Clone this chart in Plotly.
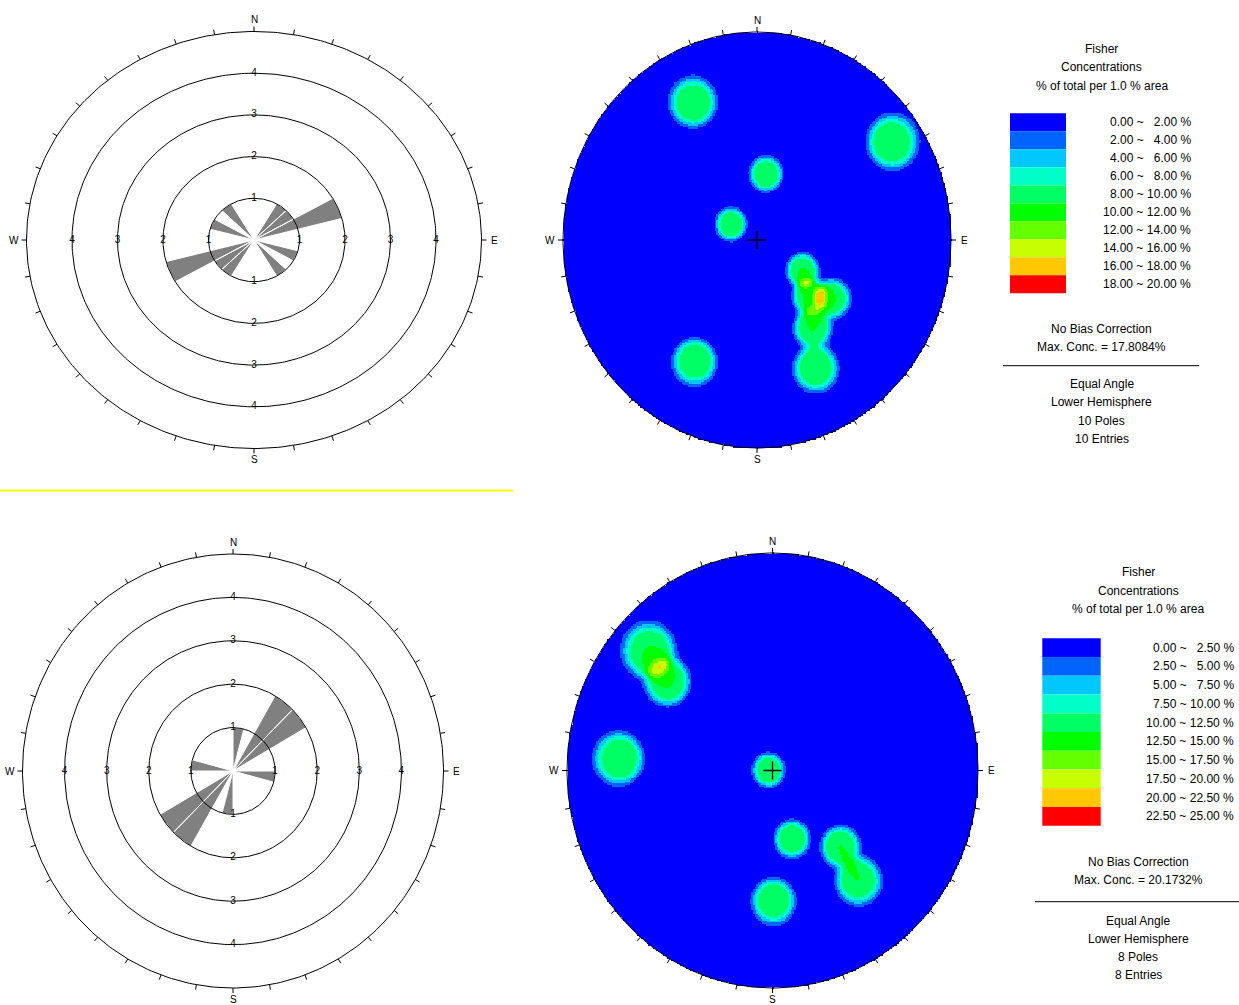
import numpy as np
import plotly.graph_objects as go

W, H = 1239, 1005
FONT = "Liberation Sans"

# ---------------- rose diagram data (15 degree bins, axial 0-180) ----------------
ROSE_BIN = 15
rose_top_counts = [0, 0, 1, 1, 2, 0, 0, 1, 0, 1, 0, 0]
rose_bot_counts = [1, 0, 2, 2, 0, 0, 1, 0, 0, 0, 0, 0]
ring_values = [1, 2, 3, 4]
rose_outer = 5

# ---------------- pole data (trend / plunge, degrees) ----------------
top_trend = [333.5, 55.8, 8.1, 299.5, 208.9, 121.9, 135.1, 126.2, 145.9, 153.9]
top_plunge = [17.4, 10.4, 54.5, 72.3, 23.0, 59.4, 48.4, 39.4, 36.4, 21.6]
bot_trend = [312.5, 308.7, 274.3, 276.4, 163.3, 136.7, 140.5, 179.6]
bot_plunge = [12.0, 23.95, 16.7, 87.7, 53.9, 39.0, 23.96, 28.5]

# ---------------- contour legend ----------------
band_colors = ["#0000FF", "#0064FF", "#00C8FF", "#00FFC8", "#00FF64",
               "#00FF00", "#64FF00", "#C8FF00", "#FFC800", "#FF0000"]
top_levels = [0, 2, 4, 6, 8, 10, 12, 14, 16, 18, 20]
bot_levels = [0, 2.5, 5, 7.5, 10, 12.5, 15, 17.5, 20, 22.5, 25]
top_max_conc = "17.8084%"
bot_max_conc = "20.1732%"
top_poles_text = ["Equal Angle", "Lower Hemisphere", "10 Poles", "10 Entries"]
bot_poles_text = ["Equal Angle", "Lower Hemisphere", "8 Poles", "8 Entries"]

# ---------------- panel geometry (pixel box, centre, pixels per unit) ----------------
panels = {
    "rose_top": dict(box=(0, 0, 512, 480), c=(254, 240), s=(45.5, 41.7)),
    "net_top": dict(box=(530, 0, 992, 480), c=(757, 240), s=(194, 208)),
    "rose_bot": dict(box=(0, 500, 470, 1005), c=(233, 771), s=(42.1, 43.4)),
    "net_bot": dict(box=(540, 500, 1006, 1005), c=(772.5, 770.5), s=(205.5, 217.5)),
}

fig = go.Figure()
layout = dict(width=W, height=H, margin=dict(l=0, r=0, t=0, b=0),
              paper_bgcolor="white", plot_bgcolor="rgba(0,0,0,0)",
              showlegend=False, font=dict(family=FONT, size=11, color="black"))
refs = {}
for i, (name, p) in enumerate(panels.items(), start=1):
    x0, y0, x1, y1 = p["box"]
    cx, cy = p["c"]
    sx, sy = p["s"]
    xa = "xaxis" if i == 1 else f"xaxis{i}"
    ya = "yaxis" if i == 1 else f"yaxis{i}"
    xr = "x" if i == 1 else f"x{i}"
    yr = "y" if i == 1 else f"y{i}"
    layout[xa] = dict(domain=[x0 / W, x1 / W], range=[(x0 - cx) / sx, (x1 - cx) / sx],
                      visible=False, anchor=yr, fixedrange=True)
    layout[ya] = dict(domain=[1 - y1 / H, 1 - y0 / H], range=[(cy - y1) / sy, (cy - y0) / sy],
                      visible=False, anchor=xr, fixedrange=True)
    refs[name] = (xr, yr, sx, sy)

annotations = []
shapes = []


def circle_xy(r, n=361):
    a = np.linspace(0, 2 * np.pi, n)
    return r * np.sin(a), r * np.cos(a)


def add_frame(name, R, tick_px=5):
    xr, yr, sx, sy = refs[name]
    x, y = circle_xy(R)
    fig.add_trace(go.Scatter(x=x, y=y, mode="lines", line=dict(color="black", width=1),
                             xaxis=xr, yaxis=yr, hoverinfo="skip"))
    tx, ty = [], []
    for deg in range(0, 360, 10):
        a = np.radians(deg)
        tx += [R * np.sin(a), R * np.sin(a) + tick_px * np.sin(a) / sx, None]
        ty += [R * np.cos(a), R * np.cos(a) + tick_px * np.cos(a) / sy, None]
    fig.add_trace(go.Scatter(x=tx, y=ty, mode="lines", line=dict(color="black", width=1),
                             xaxis=xr, yaxis=yr, hoverinfo="skip"))
    for lab, px, py, dx, dy in [("N", 0, R, 0, 12), ("S", 0, -R, 0, -11),
                                ("E", R, 0, 13, 0), ("W", -R, 0, -13, 0)]:
        annotations.append(dict(x=px, y=py, xref=xr, yref=yr, text=lab, showarrow=False,
                                xshift=dx, yshift=dy, font=dict(size=10, family=FONT)))


def add_rose(name, counts):
    xr, yr, sx, sy = refs[name]
    px, py = [], []
    for i, c in enumerate(counts):
        if c <= 0:
            continue
        for base in (i * ROSE_BIN, i * ROSE_BIN + 180):
            a = np.radians(np.linspace(base, base + ROSE_BIN, 16))
            px += [0] + list(c * np.sin(a)) + [0, None]
            py += [0] + list(c * np.cos(a)) + [0, None]
    fig.add_trace(go.Scatter(x=px, y=py, mode="lines", fill="toself", fillcolor="#808080",
                             line=dict(color="white", width=1), xaxis=xr, yaxis=yr,
                             hoverinfo="skip"))
    for r in ring_values:
        x, y = circle_xy(r)
        fig.add_trace(go.Scatter(x=x, y=y, mode="lines", line=dict(color="black", width=1),
                                 xaxis=xr, yaxis=yr, hoverinfo="skip"))
    lx, ly, lt = [], [], []
    for r in ring_values:
        for dx, dy in [(0, 1), (0, -1), (1, 0), (-1, 0)]:
            lx.append(dx * r)
            ly.append(dy * r)
            lt.append(str(r))
    fig.add_trace(go.Scatter(x=lx, y=ly, mode="text", text=lt,
                             textfont=dict(size=10, family=FONT, color="black"),
                             xaxis=xr, yaxis=yr, hoverinfo="skip", cliponaxis=False))
    add_frame(name, rose_outer)


def unit_vectors(trend, plunge):
    t = np.radians(np.asarray(trend, float))
    p = np.radians(np.asarray(plunge, float))
    return np.stack([np.cos(p) * np.sin(t), np.cos(p) * np.cos(t), -np.sin(p)], axis=-1)


def fisher_density(trend, plunge, n=261):
    g = np.linspace(-1, 1, n)
    U, V = np.meshgrid(g, g)
    r = np.hypot(U, V)
    theta = 2 * np.arctan(r)
    az = np.arctan2(U, V)
    grid = np.stack([np.sin(theta) * np.sin(az), np.sin(theta) * np.cos(az), -np.cos(theta)], axis=-1)
    poles = unit_vectors(trend, plunge)
    dots = np.abs(grid @ poles.T)
    ang = np.degrees(np.arccos(np.clip(dots, 0, 1)))
    # counting-cap kernel (1 % area), smoothed edge
    k = 1.0 / (1.0 + np.exp((ang - 7.9) / 1.155))
    dens = 100.0 / len(trend) * k.sum(axis=-1)
    dens[r > 1.0] = np.nan
    return g, dens


def discrete_scale(colors):
    n = len(colors)
    cs = []
    for i, c in enumerate(colors):
        cs += [[i / n, c], [(i + 1) / n, c]]
    return cs


def add_net(name, trend, plunge, levels):
    xr, yr, sx, sy = refs[name]
    g, dens = fisher_density(trend, plunge)
    fig.add_trace(go.Heatmap(x=g, y=g, z=dens, zmin=levels[0], zmax=levels[-1],
                             colorscale=discrete_scale(band_colors), showscale=False,
                             zsmooth=False, xaxis=xr, yaxis=yr, hoverinfo="skip"))
    add_frame(name, 1.0)
    fig.add_trace(go.Scatter(x=[0], y=[0], mode="markers",
                             marker=dict(symbol="cross-thin", size=13,
                                         line=dict(color="black", width=1.3)),
                             xaxis=xr, yaxis=yr, hoverinfo="skip"))


def add_legend(cx, top, sw_x0, sw_x1, sw_y0, sw_h, lab_x, levels, max_conc, info, line_x, line_y,
               info_y, bias_y):
    def txt(x, y, s, anchor="center"):
        annotations.append(dict(x=x / W, y=1 - y / H, xref="paper", yref="paper", text=s,
                                showarrow=False, xanchor=anchor, yanchor="middle",
                                font=dict(size=12, family=FONT)))
    for i, s in enumerate(["Fisher", "Concentrations", "% of total per 1.0 % area"]):
        txt(cx, top + i * 18.2, s)
    for i, col in enumerate(band_colors):
        y0 = sw_y0 + i * sw_h
        shapes.append(dict(type="rect", xref="paper", yref="paper", x0=sw_x0 / W, x1=sw_x1 / W,
                           y0=1 - (y0 + sw_h) / H, y1=1 - y0 / H, fillcolor=col, line=dict(width=0)))
        lo, hi = levels[i], levels[i + 1]
        hi_s = f"{hi:.2f}"
        if len(hi_s) < 5:
            hi_s = "\u2007" + hi_s
        txt(lab_x, y0 + sw_h / 2, f"{lo:.2f} ~ {hi_s} %", anchor="right")
    txt(cx, bias_y, "No Bias Correction")
    txt(cx, bias_y + 18, f"Max. Conc. = {max_conc}")
    shapes.append(dict(type="line", xref="paper", yref="paper", x0=line_x[0] / W, x1=line_x[1] / W,
                       y0=1 - line_y / H, y1=1 - line_y / H, line=dict(color="black", width=1)))
    for i, s in enumerate(info):
        txt(cx, info_y + i * 18.1, s)


add_rose("rose_top", rose_top_counts)
add_rose("rose_bot", rose_bot_counts)
add_net("net_top", top_trend, top_plunge, top_levels)
add_net("net_bot", bot_trend, bot_plunge, bot_levels)

add_legend(1101.7, 49.3, 1010, 1066, 113.3, 18.0, 1193, top_levels, top_max_conc, top_poles_text,
           (1003, 1199), 365.7, 384.3, 329)
add_legend(1138.3, 572.3, 1042.3, 1100.7, 638.3, 18.75, 1236, bot_levels, bot_max_conc, bot_poles_text,
           (1035, 1239), 901.7, 921, 862.3)

# separator line between the two rows
shapes.append(dict(type="line", xref="paper", yref="paper", x0=0, x1=513 / W,
                   y0=1 - 490.5 / H, y1=1 - 490.5 / H, line=dict(color="#FFFF00", width=2)))

layout["annotations"] = annotations
layout["shapes"] = shapes
fig.update_layout(**layout)
fig.write_html("out.html")
